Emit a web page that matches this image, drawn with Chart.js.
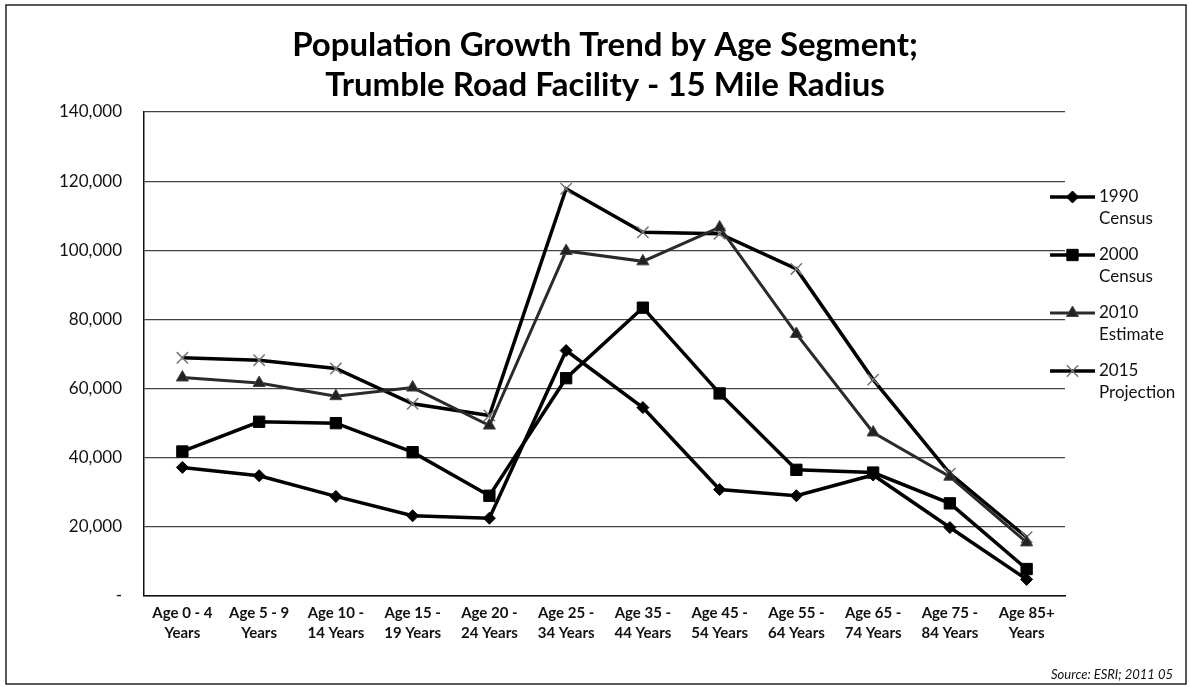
<!DOCTYPE html>
<html>
<head>
<meta charset="utf-8">
<script src="https://cdn.jsdelivr.net/npm/chart.js@4/dist/chart.umd.min.js"></script>
<style>
  html, body { margin: 0; padding: 0; background: #fff; }
  #wrap { width: 1190px; height: 687px; }
</style>
</head>
<body>
<div id="wrap"><canvas id="c" width="1190" height="687"></canvas></div>
<script>
// Age segments (two-line axis labels)
const categories = [
  ['Age 0 - 4', 'Years'], ['Age 5 - 9', 'Years'], ['Age 10 -', '14 Years'],
  ['Age 15 -', '19 Years'], ['Age 20 -', '24 Years'], ['Age 25 -', '34 Years'],
  ['Age 35 -', '44 Years'], ['Age 45 -', '54 Years'], ['Age 55 -', '64 Years'],
  ['Age 65 -', '74 Years'], ['Age 75 -', '84 Years'], ['Age 85+', 'Years']
];

// Population counts per segment
const census1990     = [37200, 34800, 28800, 23200, 22500, 71000, 54500, 30800, 29000, 35000, 19800, 4800];
const census2000     = [41800, 50400, 50000, 41600, 29000, 63000, 83400, 58600, 36500, 35700, 26800, 7800];
const estimate2010   = [63200, 61600, 57800, 60300, 49300, 99800, 96800, 106600, 75800, 47300, 34500, 15500];
const projection2015 = [68900, 68200, 65800, 55600, 52200, 117800, 105200, 104800, 94600, 62600, 35400, 17000];

const seriesNames = ['1990 Census', '2000 Census', '2010 Estimate', '2015 Projection'];

// Y axis ticks
const yTicks = [0, 20000, 40000, 60000, 80000, 100000, 120000, 140000];

const titleLines = ['Population Growth Trend by Age Segment;', 'Trumble Road Facility - 15 Mile Radius'];
const sourceText = 'Source: ESRI; 2011 05';

const FONT = 'Lato, "Open Sans", "DejaVu Sans", sans-serif';

// Outer frame around the whole figure
const framePlugin = {
  id: 'frame',
  afterDraw(chart) {
    const ctx = chart.ctx;
    ctx.save();
    ctx.strokeStyle = '#222';
    ctx.lineWidth = 1.5;
    ctx.strokeRect(6, 5, chart.width - 10, chart.height - 8);
    ctx.restore();
  }
};

// Two-line heading centred over the figure
const headingPlugin = {
  id: 'heading',
  afterDraw(chart, args, opts) {
    const ctx = chart.ctx;
    ctx.save();
    ctx.fillStyle = '#000';
    ctx.font = opts.font;
    ctx.textAlign = 'center';
    ctx.textBaseline = 'middle';
    opts.lines.forEach((t, i) => ctx.fillText(t, opts.x, opts.y + i * opts.lineGap));
    ctx.restore();
  }
};

// Right-hand legend with two-line entries and the line+marker sample
const sideLegend = {
  id: 'sideLegend',
  afterDraw(chart, args, opts) {
    const ctx = chart.ctx;
    ctx.save();
    chart.data.datasets.forEach((ds, i) => {
      const y = opts.top + i * opts.gap;
      const x0 = opts.left, x1 = opts.left + opts.sample;
      ctx.strokeStyle = ds.borderColor;
      ctx.lineWidth = ds.borderWidth;
      ctx.beginPath();
      ctx.moveTo(x0, y);
      ctx.lineTo(x1, y);
      ctx.stroke();
      ctx.fillStyle = ds.pointBackgroundColor;
      ctx.strokeStyle = ds.pointBorderColor;
      ctx.lineWidth = ds.pointBorderWidth;
      Chart.helpers.drawPoint(ctx, {
        pointStyle: ds.pointStyle,
        radius: ds.pointRadius,
        borderWidth: ds.pointBorderWidth,
        rotation: 0
      }, (x0 + x1) / 2, y);
      ctx.fillStyle = '#111';
      ctx.font = opts.font;
      ctx.textAlign = 'left';
      ctx.textBaseline = 'middle';
      ds.label.split(' ').forEach((line, k) => {
        ctx.fillText(line, x1 + 4, y + k * opts.lineGap);
      });
    });
    ctx.restore();
  }
};

// Source note at the lower right
const sourceNote = {
  id: 'sourceNote',
  afterDraw(chart, args, opts) {
    const ctx = chart.ctx;
    ctx.save();
    ctx.fillStyle = '#111';
    ctx.font = opts.font;
    ctx.textAlign = 'right';
    ctx.textBaseline = 'middle';
    ctx.fillText(opts.text, opts.x, opts.y);
    ctx.restore();
  }
};

const styles = [
  { color: '#000', width: 3.5, point: 'rectRot', r: 6, pbg: '#000', pbc: '#000', pbw: 1 },
  { color: '#000', width: 3.5, point: 'rect', r: 8, pbg: '#000', pbc: '#000', pbw: 1 },
  { color: '#2a2a2a', width: 3, point: 'triangle', r: 7, pbg: '#222', pbc: '#444', pbw: 1 },
  { color: '#000', width: 3.5, point: 'crossRot', r: 8, pbg: '#777', pbc: '#777', pbw: 1.5 }
];
const seriesData = [census1990, census2000, estimate2010, projection2015];

const datasets = seriesData.map((d, i) => ({
  label: seriesNames[i],
  data: d,
  borderColor: styles[i].color,
  borderWidth: styles[i].width,
  pointStyle: styles[i].point,
  pointRadius: styles[i].r,
  pointBackgroundColor: styles[i].pbg,
  pointBorderColor: styles[i].pbc,
  pointBorderWidth: styles[i].pbw,
  tension: 0,
  fill: false
}));

new Chart(document.getElementById('c'), {
  type: 'line',
  data: { labels: categories, datasets },
  plugins: [framePlugin, headingPlugin, sideLegend, sourceNote],
  options: {
    responsive: false,
    animation: false,
    layout: { padding: { left: 0, right: 125, top: 112, bottom: 0 } },
    plugins: {
      legend: { display: false },
      tooltip: { enabled: false },
      title: { display: false },
      heading: { lines: titleLines, x: 605, y: 45, lineGap: 40, font: 'bold 33px ' + FONT },
      sideLegend: { left: 1050, sample: 45, top: 197, gap: 58, lineGap: 22, font: '17px ' + FONT },
      sourceNote: { text: sourceText, x: 1173, y: 675, font: 'italic 13px ' + FONT }
    },
    scales: {
      x: {
        offset: true,
        grid: { display: false, drawTicks: false },
        border: { display: true, color: '#111', width: 1.5 },
        ticks: {
          color: '#111',
          autoSkip: false,
          maxRotation: 0,
          padding: 7,
          font: { family: FONT, size: 15, weight: 'bold', lineHeight: 1.35 }
        },
        afterFit(axis) { axis.height = 91; }
      },
      y: {
        min: 0,
        max: 140000,
        afterBuildTicks(axis) { axis.ticks = yTicks.map(v => ({ value: v })); },
        grid: { color: '#444', lineWidth: 1.2, drawTicks: false },
        border: { display: true, color: '#111', width: 1.5 },
        ticks: {
          color: '#111',
          padding: 22,
          font: { family: FONT, size: 17 },
          callback: v => v === 0 ? '-' : v.toLocaleString('en-US')
        },
        afterFit(axis) { axis.width = 144; }
      }
    }
  }
});
</script>
</body>
</html>
